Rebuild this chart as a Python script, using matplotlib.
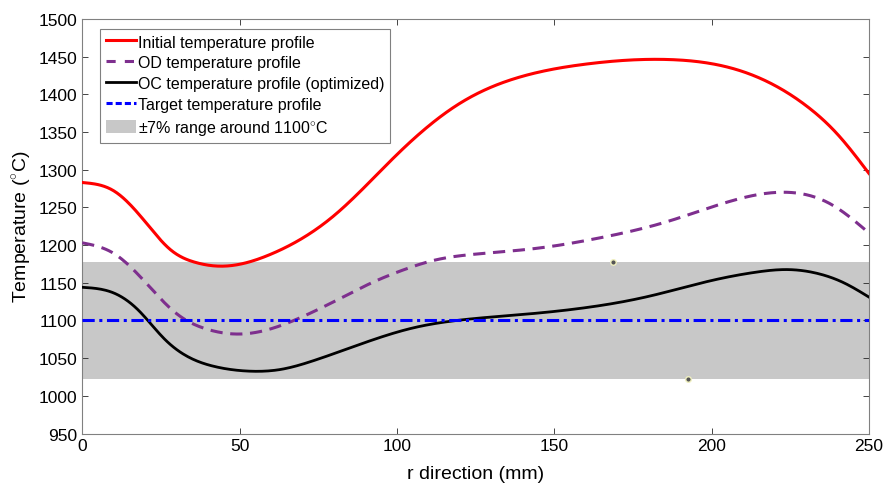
import matplotlib.pyplot as plt
import numpy as np
from matplotlib.patches import Patch
from matplotlib.lines import Line2D

plt.rcParams["font.family"] = ["Liberation Sans", "DejaVu Sans"]
plt.rcParams["mathtext.fontset"] = "custom"
plt.rcParams["mathtext.rm"] = "Liberation Sans"

# Initial temperature profile (red)
r_init = [0, 10, 20, 28, 36, 44, 60, 80, 100, 120, 140, 160, 187, 210, 230,
          240, 250]
t_init = [1283, 1272, 1231, 1194, 1177, 1172, 1188, 1239, 1320, 1388, 1424,
          1440, 1446, 1430, 1385, 1347, 1295]

# OD temperature profile (purple dashed)
r_od = [0, 10, 20, 30, 40, 50, 60, 70, 80, 92, 102, 112, 125, 145, 165, 185,
        205, 224, 238, 250]
t_od = [1203, 1189, 1151, 1109, 1088, 1082, 1089, 1105, 1125, 1150, 1167,
        1180, 1188, 1196, 1210, 1230, 1257, 1270, 1254, 1216]

# OC temperature profile, optimized (black)
r_oc = [0, 10, 18, 26, 34, 42, 52, 63, 73, 84, 95, 105, 120, 140, 160, 180,
        200, 214, 224, 234, 242, 250]
t_oc = [1144, 1136.5, 1113, 1076, 1051, 1039, 1033, 1035, 1046, 1062, 1078,
        1090, 1100.5, 1108, 1117, 1132, 1153, 1164, 1167.5, 1162, 1150, 1131]

target = 1100
band_pct = 0.07
x_range = [0, 250]

# data tip markers on band edges
tip_r = [168.7, 192.5]
tip_t = [1177, 1023]


def spline(x, y, n=500):
    """Natural cubic spline through the read-off points."""
    x = np.asarray(x, float)
    y = np.asarray(y, float)
    h = np.diff(x)
    m = len(x)
    A = np.zeros((m, m))
    b = np.zeros(m)
    A[0, 0] = A[-1, -1] = 1
    for i in range(1, m - 1):
        A[i, i - 1] = h[i - 1]
        A[i, i] = 2 * (h[i - 1] + h[i])
        A[i, i + 1] = h[i]
        b[i] = 6 * ((y[i + 1] - y[i]) / h[i] - (y[i] - y[i - 1]) / h[i - 1])
    M = np.linalg.solve(A, b)
    xs = np.linspace(x[0], x[-1], n)
    k = np.clip(np.searchsorted(x, xs) - 1, 0, m - 2)
    t0 = x[k + 1] - xs
    t1 = xs - x[k]
    hk = h[k]
    ys = (M[k] * t0 ** 3 + M[k + 1] * t1 ** 3) / (6 * hk) \
        + (y[k] / hk - M[k] * hk / 6) * t0 + (y[k + 1] / hk - M[k + 1] * hk / 6) * t1
    return xs, ys


fig = plt.figure(figsize=(8.84, 4.85), dpi=100)
ax = fig.add_axes([0.093, 0.104, 0.890, 0.855])

lo, hi = target * (1 - band_pct), target * (1 + band_pct)
ax.fill_between(x_range, [lo, lo], [hi, hi], color="#c8c8c8", lw=0, zorder=1)

xs, ys = spline(r_init, t_init)
ax.plot(xs, ys, color="#ff0000", lw=2.2, zorder=3)
xs, ys = spline(r_od, t_od)
ax.plot(xs, ys, color="#7e2f8e", lw=2.2, ls=(0, (4, 2.5)), zorder=3)
xs, ys = spline(r_oc, t_oc)
ax.plot(xs, ys, color="#000000", lw=2.0, zorder=3)
ax.plot(x_range, [target, target], color="#0000ff", lw=2.2,
        ls=(0, (4, 1.5, 1, 1.5)), zorder=3)
ax.plot(tip_r, tip_t, ls="none", marker="o", ms=4, mfc="#555555",
        mec="#f0f0c0", mew=1, zorder=4)

ax.set_xlim(0, 250)
ax.set_ylim(950, 1500)
ax.set_xticks(np.arange(0, 251, 50))
ax.set_yticks(np.arange(950, 1501, 50))
ax.tick_params(direction="in", top=True, right=True, labelsize=12.5,
               color="#262626", length=4, width=0.6)
for s in ax.spines.values():
    s.set_color("#808080")
    s.set_linewidth(0.8)
ax.set_xlabel("r direction (mm)", fontsize=14, labelpad=8)
ax.set_ylabel(r"Temperature ($^{\circ}$C)", fontsize=14, labelpad=4)

handles = [
    Line2D([], [], color="#ff0000", lw=2.2),
    Line2D([], [], color="#7e2f8e", lw=2.2, ls=(0, (3, 3))),
    Line2D([], [], color="#000000", lw=2.0),
    Line2D([], [], color="#0000ff", lw=2.2, ls=(0, (2, 1))),
    Patch(facecolor="#c8c8c8", edgecolor="none"),
]
labels = [
    "Initial temperature profile",
    "OD temperature profile",
    "OC temperature profile (optimized)",
    "Target temperature profile",
    r"$\pm$7% range around 1100$^{\circ}$C",
]
leg = ax.legend(handles, labels, loc="upper left", fontsize=11.5,
                bbox_to_anchor=(0.023, 0.976), handlelength=1.9,
                handletextpad=0.1, labelspacing=0.36, borderpad=0.35,
                handleheight=0.9, fancybox=False, framealpha=1,
                borderaxespad=0)
leg.get_frame().set_edgecolor("#808080")
leg.get_frame().set_linewidth(0.8)

fig.savefig("out.png", dpi=100)
